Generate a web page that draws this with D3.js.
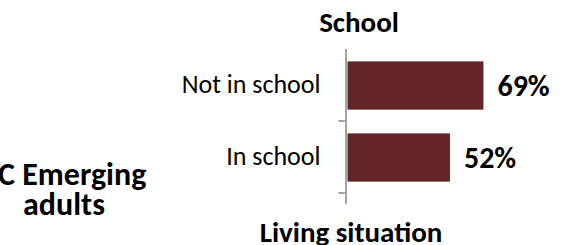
<!DOCTYPE html>
<html><head><meta charset="utf-8">
<script src="https://cdn.jsdelivr.net/npm/d3@7"></script>
<style>
html,body{margin:0;padding:0;background:#fff;}
svg{display:block;font-family:Carlito, Calibri, Lato, sans-serif;}
</style></head>
<body><svg id="chart" width="582" height="245"></svg>
<script>
const categories = ["Not in school", "In school"];
const values = [69, 52];
const valueLabels = ["69%", "52%"];
const chartTitle = "School";
const axisTitle = "Living situation";
const panelLabel = ["C Emerging", "adults"];

const svg = d3.select("#chart");
const x0 = 347.5;
const x = d3.scaleLinear().domain([0, 100]).range([x0, x0 + 197]);
const y = d3.scaleBand().domain(categories).range([49, 193]).padding(0);
const barH = y.bandwidth() * 0.67;
const barColor = "#632526";
const axisColor = "#a5a5a5";

svg.selectAll("rect.bar").data(categories).enter().append("rect")
  .attr("class", "bar")
  .attr("x", x(0))
  .attr("y", d => y(d) + (y.bandwidth() - barH) / 2 + 0.5)
  .attr("width", (d, i) => x(values[i]) - x(0))
  .attr("height", barH)
  .attr("fill", barColor);

svg.append("line")
  .attr("x1", x0 - 1.5).attr("x2", x0 - 1.5)
  .attr("y1", 49).attr("y2", 204)
  .attr("stroke", axisColor).attr("stroke-width", 2);

svg.selectAll("line.tick").data(categories).enter().append("line")
  .attr("class", "tick")
  .attr("x1", x0 - 9).attr("x2", x0 - 1.5)
  .attr("y1", d => y(d) + y.bandwidth())
  .attr("y2", d => y(d) + y.bandwidth())
  .attr("stroke", axisColor).attr("stroke-width", 2);

svg.selectAll("text.cat").data(categories).enter().append("text")
  .attr("class", "cat")
  .attr("x", x0 - 27)
  .attr("y", d => y(d) + y.bandwidth() / 2 + 7.5)
  .attr("text-anchor", "end")
  .attr("font-size", 26)
  .attr("fill", "#000")
  .text(d => d);

svg.selectAll("text.val").data(categories).enter().append("text")
  .attr("class", "val")
  .attr("x", (d, i) => x(values[i]) + 14)
  .attr("y", d => y(d) + y.bandwidth() / 2 + 10.5)
  .attr("font-size", 30)
  .attr("font-weight", "bold")
  .attr("fill", "#000")
  .text((d, i) => valueLabels[i]);

svg.append("text")
  .attr("x", 359).attr("y", 32)
  .attr("text-anchor", "middle")
  .attr("font-size", 29).attr("font-weight", "bold")
  .text(chartTitle);

svg.append("text")
  .attr("x", 351).attr("y", 242)
  .attr("text-anchor", "middle")
  .attr("font-size", 29).attr("font-weight", "bold")
  .text(axisTitle);

svg.append("text")
  .attr("x", -2).attr("y", 185)
  .attr("font-size", 32).attr("font-weight", "bold")
  .text(panelLabel[0]);
svg.append("text")
  .attr("x", 64).attr("y", 215)
  .attr("text-anchor", "middle")
  .attr("font-size", 32).attr("font-weight", "bold")
  .text(panelLabel[1]);
</script>
</body></html>
